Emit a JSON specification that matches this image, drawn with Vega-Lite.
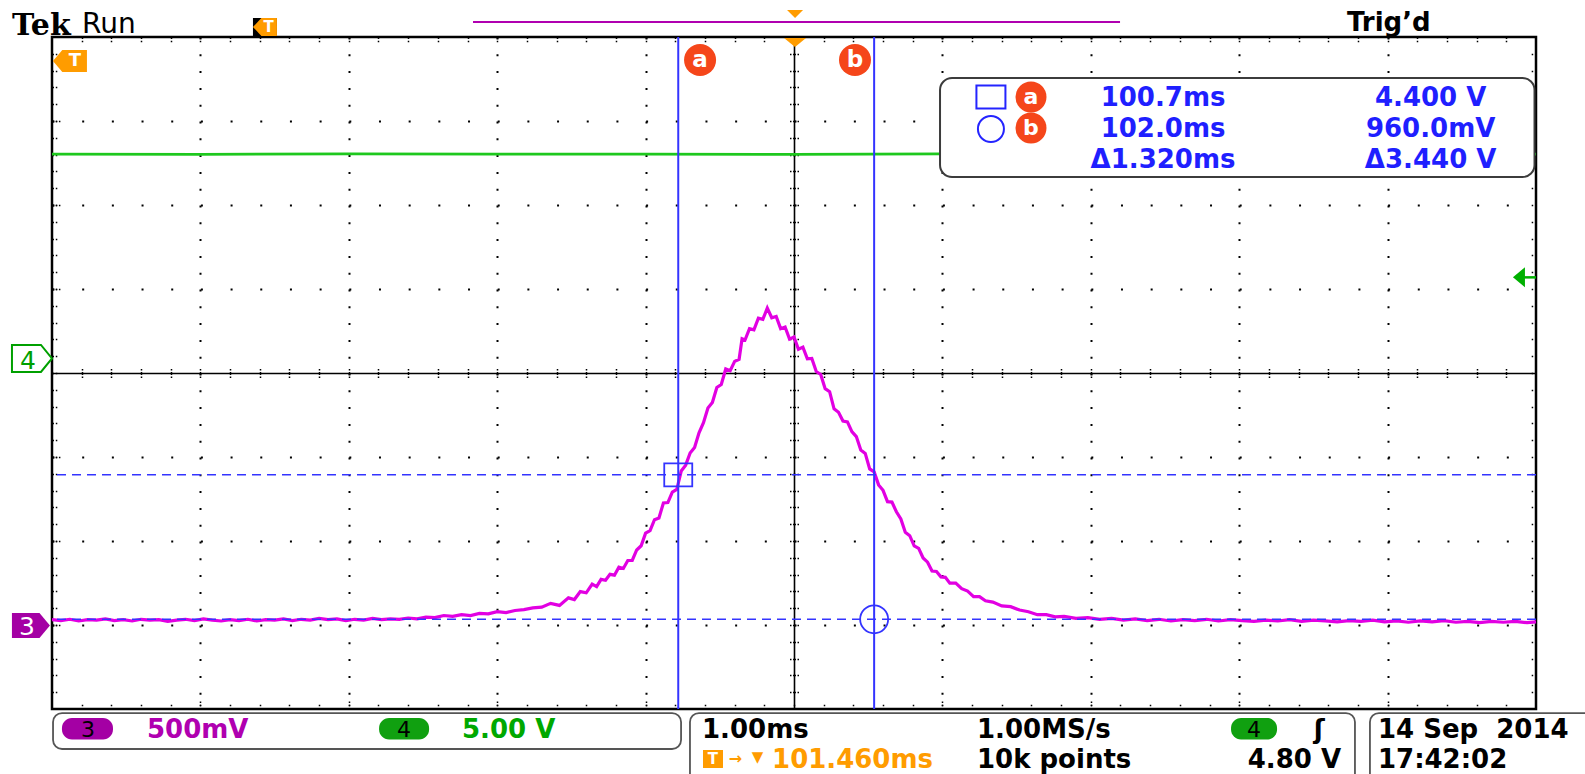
{
  "$schema": "https://vega.github.io/schema/vega-lite/v6.json",
  "width": 1484,
  "height": 672,
  "autosize": {"type": "none"},
  "padding": {"left": 52, "top": 37, "right": 49, "bottom": 65},
  "background": "#ffffff",
  "config": {
    "view": {"stroke": "#000000", "strokeWidth": 2.5},
    "axis": {"domain": false, "ticks": false, "labels": false, "grid": false, "titleOpacity": 0}
  },
  "datasets": {
    "ch3": [
      {"t": 96.46, "v": 0.95}, {"t": 96.52, "v": 0.93}, {"t": 96.58, "v": 0.96}, {"t": 96.64, "v": 0.92}, {"t": 96.7, "v": 0.95},
      {"t": 96.76, "v": 0.94}, {"t": 96.82, "v": 0.97}, {"t": 96.88, "v": 0.93}, {"t": 96.94, "v": 0.95}, {"t": 97.0, "v": 0.92},
      {"t": 97.06, "v": 0.96}, {"t": 97.12, "v": 0.94}, {"t": 97.18, "v": 0.95}, {"t": 97.24, "v": 0.91}, {"t": 97.3, "v": 0.94},
      {"t": 97.36, "v": 0.96}, {"t": 97.42, "v": 0.93}, {"t": 97.48, "v": 0.97}, {"t": 97.54, "v": 0.94}, {"t": 97.6, "v": 0.92},
      {"t": 97.66, "v": 0.95}, {"t": 97.72, "v": 0.93}, {"t": 97.78, "v": 0.96}, {"t": 97.84, "v": 0.92}, {"t": 97.9, "v": 0.95},
      {"t": 97.96, "v": 0.94}, {"t": 98.02, "v": 0.97}, {"t": 98.08, "v": 0.93}, {"t": 98.14, "v": 0.96}, {"t": 98.2, "v": 0.94},
      {"t": 98.26, "v": 0.98}, {"t": 98.32, "v": 0.95}, {"t": 98.38, "v": 0.97}, {"t": 98.44, "v": 0.93}, {"t": 98.5, "v": 0.96},
      {"t": 98.56, "v": 0.94}, {"t": 98.62, "v": 0.98}, {"t": 98.68, "v": 0.95}, {"t": 98.74, "v": 0.97}, {"t": 98.8, "v": 0.96},
      {"t": 98.86, "v": 0.99}, {"t": 98.92, "v": 0.97}, {"t": 98.98, "v": 1.01}, {"t": 99.04, "v": 1.0}, {"t": 99.1, "v": 1.05},
      {"t": 99.16, "v": 1.03}, {"t": 99.22, "v": 1.07}, {"t": 99.28, "v": 1.05}, {"t": 99.34, "v": 1.1}, {"t": 99.4, "v": 1.09},
      {"t": 99.46, "v": 1.14}, {"t": 99.52, "v": 1.12}, {"t": 99.58, "v": 1.17}, {"t": 99.64, "v": 1.19}, {"t": 99.7, "v": 1.23},
      {"t": 99.76, "v": 1.25}, {"t": 99.82, "v": 1.34}, {"t": 99.88, "v": 1.29}, {"t": 99.94, "v": 1.47}, {"t": 99.98, "v": 1.43},
      {"t": 100.02, "v": 1.62}, {"t": 100.06, "v": 1.59}, {"t": 100.1, "v": 1.8}, {"t": 100.13, "v": 1.74}, {"t": 100.16, "v": 1.91},
      {"t": 100.19, "v": 1.89}, {"t": 100.22, "v": 2.03}, {"t": 100.25, "v": 2.01}, {"t": 100.28, "v": 2.2}, {"t": 100.31, "v": 2.17},
      {"t": 100.34, "v": 2.36}, {"t": 100.37, "v": 2.36}, {"t": 100.4, "v": 2.61}, {"t": 100.43, "v": 2.71}, {"t": 100.46, "v": 3.01},
      {"t": 100.49, "v": 3.07}, {"t": 100.52, "v": 3.33}, {"t": 100.55, "v": 3.37}, {"t": 100.58, "v": 3.73}, {"t": 100.61, "v": 3.74},
      {"t": 100.64, "v": 3.99}, {"t": 100.67, "v": 4.05}, {"t": 100.7, "v": 4.49}, {"t": 100.73, "v": 4.63}, {"t": 100.76, "v": 4.92},
      {"t": 100.79, "v": 5.05}, {"t": 100.82, "v": 5.4}, {"t": 100.85, "v": 5.64}, {"t": 100.88, "v": 5.99}, {"t": 100.91, "v": 6.12},
      {"t": 100.94, "v": 6.48}, {"t": 100.97, "v": 6.55}, {"t": 101.0, "v": 6.92}, {"t": 101.03, "v": 6.88}, {"t": 101.06, "v": 7.1},
      {"t": 101.09, "v": 7.15}, {"t": 101.11, "v": 7.64}, {"t": 101.13, "v": 7.61}, {"t": 101.16, "v": 7.88}, {"t": 101.19, "v": 7.85},
      {"t": 101.22, "v": 8.13}, {"t": 101.25, "v": 8.1}, {"t": 101.28, "v": 8.37}, {"t": 101.31, "v": 8.14}, {"t": 101.34, "v": 8.17},
      {"t": 101.37, "v": 7.88}, {"t": 101.4, "v": 7.92}, {"t": 101.43, "v": 7.63}, {"t": 101.46, "v": 7.68}, {"t": 101.49, "v": 7.39},
      {"t": 101.52, "v": 7.44}, {"t": 101.55, "v": 7.16}, {"t": 101.58, "v": 7.17}, {"t": 101.61, "v": 6.86}, {"t": 101.64, "v": 6.79},
      {"t": 101.67, "v": 6.45}, {"t": 101.7, "v": 6.38}, {"t": 101.73, "v": 5.97}, {"t": 101.76, "v": 5.89}, {"t": 101.79, "v": 5.68},
      {"t": 101.82, "v": 5.66}, {"t": 101.85, "v": 5.43}, {"t": 101.88, "v": 5.31}, {"t": 101.91, "v": 4.99}, {"t": 101.94, "v": 4.91},
      {"t": 101.97, "v": 4.54}, {"t": 102.0, "v": 4.47}, {"t": 102.03, "v": 4.16}, {"t": 102.06, "v": 4.03}, {"t": 102.09, "v": 3.76},
      {"t": 102.12, "v": 3.75}, {"t": 102.15, "v": 3.52}, {"t": 102.18, "v": 3.35}, {"t": 102.21, "v": 3.03}, {"t": 102.24, "v": 2.95},
      {"t": 102.27, "v": 2.71}, {"t": 102.3, "v": 2.65}, {"t": 102.33, "v": 2.42}, {"t": 102.36, "v": 2.32}, {"t": 102.39, "v": 2.11},
      {"t": 102.42, "v": 2.1}, {"t": 102.45, "v": 1.97}, {"t": 102.48, "v": 1.96}, {"t": 102.51, "v": 1.82}, {"t": 102.55, "v": 1.82},
      {"t": 102.59, "v": 1.69}, {"t": 102.63, "v": 1.63}, {"t": 102.67, "v": 1.5}, {"t": 102.71, "v": 1.5}, {"t": 102.75, "v": 1.4},
      {"t": 102.8, "v": 1.37}, {"t": 102.86, "v": 1.28}, {"t": 102.92, "v": 1.26}, {"t": 102.98, "v": 1.18}, {"t": 103.04, "v": 1.14},
      {"t": 103.1, "v": 1.07}, {"t": 103.16, "v": 1.07}, {"t": 103.22, "v": 1.02}, {"t": 103.28, "v": 1.03}, {"t": 103.36, "v": 0.98},
      {"t": 103.44, "v": 1.0}, {"t": 103.52, "v": 0.96}, {"t": 103.6, "v": 0.98}, {"t": 103.68, "v": 0.94}, {"t": 103.76, "v": 0.97},
      {"t": 103.84, "v": 0.93}, {"t": 103.92, "v": 0.96}, {"t": 104.0, "v": 0.92}, {"t": 104.08, "v": 0.95}, {"t": 104.16, "v": 0.93},
      {"t": 104.24, "v": 0.96}, {"t": 104.32, "v": 0.92}, {"t": 104.4, "v": 0.95}, {"t": 104.48, "v": 0.93}, {"t": 104.56, "v": 0.91},
      {"t": 104.64, "v": 0.94}, {"t": 104.72, "v": 0.92}, {"t": 104.8, "v": 0.95}, {"t": 104.88, "v": 0.91}, {"t": 104.96, "v": 0.94},
      {"t": 105.04, "v": 0.92}, {"t": 105.12, "v": 0.9}, {"t": 105.2, "v": 0.93}, {"t": 105.28, "v": 0.91}, {"t": 105.36, "v": 0.94},
      {"t": 105.44, "v": 0.9}, {"t": 105.52, "v": 0.92}, {"t": 105.6, "v": 0.89}, {"t": 105.68, "v": 0.92}, {"t": 105.76, "v": 0.9},
      {"t": 105.84, "v": 0.93}, {"t": 105.92, "v": 0.89}, {"t": 106.0, "v": 0.91}, {"t": 106.08, "v": 0.88}, {"t": 106.16, "v": 0.91},
      {"t": 106.24, "v": 0.89}, {"t": 106.32, "v": 0.91}, {"t": 106.4, "v": 0.88}, {"t": 106.46, "v": 0.9}
    ],
    "ch4": [
      {"t": 96.46, "v": 12.14}, {"t": 97.46, "v": 12.12}, {"t": 98.46, "v": 12.15}, {"t": 99.46, "v": 12.13}, {"t": 100.46, "v": 12.14},
      {"t": 101.46, "v": 12.12}, {"t": 102.46, "v": 12.15}, {"t": 103.46, "v": 12.13}, {"t": 104.46, "v": 12.14}, {"t": 105.46, "v": 12.13},
      {"t": 106.46, "v": 12.14}
    ],
    "cursors": [
      {"cursor": "a", "t": 100.68, "v": 4.4},
      {"cursor": "b", "t": 102.0, "v": 0.96}
    ],
    "trigger": [{"source": "4", "level": 4.8}]
  },
  "resolve": {
    "scale": {"x": "independent", "y": "independent"},
    "axis": {"x": "independent", "y": "independent"}
  },
  "layer": [
    {
      "mark": {"type": "point", "opacity": 0},
      "encoding": {
        "x": {"datum": 0, "scale": {"domain": [-5, 5], "nice": false, "zero": false},
          "axis": {"orient": "bottom", "title": null, "values": [-4, -3, -2, -1, 1, 2, 3, 4], "grid": true, "gridColor": "#000000", "gridWidth": 2, "gridDash": [2, 14.8],
            "ticks": true, "tickSize": -9, "tickColor": "#000000", "tickWidth": 1.5, "tickDash": [1.5, 1.7]}},
        "y": {"datum": 0, "scale": {"domain": [-4, 4], "nice": false, "zero": false},
          "axis": {"orient": "left", "title": null, "values": [-3, -2, -1, 1, 2, 3], "grid": true, "gridColor": "#000000", "gridWidth": 2, "gridDash": [2, 27.68],
            "ticks": true, "tickSize": -9, "tickColor": "#000000", "tickWidth": 1.5, "tickDash": [1.5, 1.7]}}
      }
    },
    {
      "mark": {"type": "point", "opacity": 0},
      "encoding": {
        "x": {"datum": 0, "scale": {"domain": [-5, 5], "nice": false, "zero": false},
          "axis": {"orient": "bottom", "title": null, "ticks": true, "tickSize": -5, "tickColor": "#000000", "tickWidth": 1.5, "tickDash": [1.5, 1.8],
            "values": [-4.8, -4.6, -4.4, -4.2, -4, -3.8, -3.6, -3.4, -3.2, -3, -2.8, -2.6, -2.4, -2.2, -2, -1.8, -1.6, -1.4, -1.2, -1, -0.8, -0.6, -0.4, -0.2, 0, 0.2, 0.4, 0.6, 0.8, 1, 1.2, 1.4, 1.6, 1.8, 2, 2.2, 2.4, 2.6, 2.8, 3, 3.2, 3.4, 3.6, 3.8, 4, 4.2, 4.4, 4.6, 4.8]}},
        "y": {"datum": 0, "scale": {"domain": [-4, 4], "nice": false, "zero": false},
          "axis": {"orient": "left", "title": null, "ticks": true, "tickSize": -5, "tickColor": "#000000", "tickWidth": 1.5, "tickDash": [1.5, 1.8],
            "values": [-3.8, -3.6, -3.4, -3.2, -3, -2.8, -2.6, -2.4, -2.2, -2, -1.8, -1.6, -1.4, -1.2, -1, -0.8, -0.6, -0.4, -0.2, 0, 0.2, 0.4, 0.6, 0.8, 1, 1.2, 1.4, 1.6, 1.8, 2, 2.2, 2.4, 2.6, 2.8, 3, 3.2, 3.4, 3.6, 3.8]}}
      }
    },
    {
      "mark": {"type": "point", "opacity": 0},
      "encoding": {
        "x": {"datum": 0, "scale": {"domain": [-5, 5], "nice": false, "zero": false},
          "axis": {"orient": "top", "title": null, "ticks": true, "tickSize": -5, "tickColor": "#000000", "tickWidth": 1.5, "tickDash": [1.5, 1.8],
            "values": [-4.8, -4.6, -4.4, -4.2, -4, -3.8, -3.6, -3.4, -3.2, -3, -2.8, -2.6, -2.4, -2.2, -2, -1.8, -1.6, -1.4, -1.2, -1, -0.8, -0.6, -0.4, -0.2, 0, 0.2, 0.4, 0.6, 0.8, 1, 1.2, 1.4, 1.6, 1.8, 2, 2.2, 2.4, 2.6, 2.8, 3, 3.2, 3.4, 3.6, 3.8, 4, 4.2, 4.4, 4.6, 4.8]}},
        "y": {"datum": 0, "scale": {"domain": [-4, 4], "nice": false, "zero": false},
          "axis": {"orient": "right", "title": null, "ticks": true, "tickSize": -5, "tickColor": "#000000", "tickWidth": 1.5, "tickDash": [1.5, 1.8],
            "values": [-3.8, -3.6, -3.4, -3.2, -3, -2.8, -2.6, -2.4, -2.2, -2, -1.8, -1.6, -1.4, -1.2, -1, -0.8, -0.6, -0.4, -0.2, 0, 0.2, 0.4, 0.6, 0.8, 1, 1.2, 1.4, 1.6, 1.8, 2, 2.2, 2.4, 2.6, 2.8, 3, 3.2, 3.4, 3.6, 3.8]}}
      }
    },
    {
      "mark": {"type": "point", "opacity": 0},
      "encoding": {
        "x": {"datum": 0, "scale": {"domain": [-5, 5], "nice": false, "zero": false},
          "axis": {"orient": "bottom", "offset": -336, "title": null, "domain": true, "domainColor": "#000000", "domainWidth": 1.6,
            "ticks": true, "tickSize": 6, "tickColor": "#000000", "tickWidth": 1.5, "tickDash": [1.5, 1.5],
            "values": [-4.8, -4.6, -4.4, -4.2, -4, -3.8, -3.6, -3.4, -3.2, -3, -2.8, -2.6, -2.4, -2.2, -2, -1.8, -1.6, -1.4, -1.2, -1, -0.8, -0.6, -0.4, -0.2, 0.2, 0.4, 0.6, 0.8, 1, 1.2, 1.4, 1.6, 1.8, 2, 2.2, 2.4, 2.6, 2.8, 3, 3.2, 3.4, 3.6, 3.8, 4, 4.2, 4.4, 4.6, 4.8]}},
        "y": {"datum": 0, "scale": {"domain": [-4, 4], "nice": false, "zero": false},
          "axis": {"orient": "left", "offset": -742, "title": null, "domain": true, "domainColor": "#000000", "domainWidth": 1.6,
            "ticks": true, "tickSize": 6, "tickColor": "#000000", "tickWidth": 1.5, "tickDash": [1.5, 1.5],
            "values": [-3.8, -3.6, -3.4, -3.2, -3, -2.8, -2.6, -2.4, -2.2, -2, -1.8, -1.6, -1.4, -1.2, -1, -0.8, -0.6, -0.4, -0.2, 0.2, 0.4, 0.6, 0.8, 1, 1.2, 1.4, 1.6, 1.8, 2, 2.2, 2.4, 2.6, 2.8, 3, 3.2, 3.4, 3.6, 3.8]}}
      }
    },
    {
      "mark": {"type": "point", "opacity": 0},
      "encoding": {
        "x": {"datum": 0, "scale": {"domain": [-5, 5], "nice": false, "zero": false},
          "axis": {"orient": "top", "offset": -336, "title": null,
            "ticks": true, "tickSize": 6, "tickColor": "#000000", "tickWidth": 1.5, "tickDash": [1.5, 1.5],
            "values": [-4.8, -4.6, -4.4, -4.2, -4, -3.8, -3.6, -3.4, -3.2, -3, -2.8, -2.6, -2.4, -2.2, -2, -1.8, -1.6, -1.4, -1.2, -1, -0.8, -0.6, -0.4, -0.2, 0.2, 0.4, 0.6, 0.8, 1, 1.2, 1.4, 1.6, 1.8, 2, 2.2, 2.4, 2.6, 2.8, 3, 3.2, 3.4, 3.6, 3.8, 4, 4.2, 4.4, 4.6, 4.8]}},
        "y": {"datum": 0, "scale": {"domain": [-4, 4], "nice": false, "zero": false},
          "axis": {"orient": "right", "offset": -742, "title": null,
            "ticks": true, "tickSize": 6, "tickColor": "#000000", "tickWidth": 1.5, "tickDash": [1.5, 1.5],
            "values": [-3.8, -3.6, -3.4, -3.2, -3, -2.8, -2.6, -2.4, -2.2, -2, -1.8, -1.6, -1.4, -1.2, -1, -0.8, -0.6, -0.4, -0.2, 0.2, 0.4, 0.6, 0.8, 1, 1.2, 1.4, 1.6, 1.8, 2, 2.2, 2.4, 2.6, 2.8, 3, 3.2, 3.4, 3.6, 3.8]}}
      }
    },
    {
      "layer": [
        {
          "data": {"name": "ch4"},
          "mark": {"type": "line", "color": "#1ec81e", "strokeWidth": 2.8},
          "encoding": {
            "x": {"field": "t", "type": "quantitative", "scale": {"domain": [96.46, 106.46], "nice": false, "zero": false}},
            "y": {"field": "v", "type": "quantitative", "scale": {"domain": [-20.893, 19.107], "nice": false, "zero": false}}
          }
        },
        {
          "data": {"name": "trigger"},
          "mark": {"type": "point", "shape": "M-0.6,0L0.6,-1L0.6,1Z", "size": 400, "filled": true, "color": "#00b000", "opacity": 1},
          "encoding": {"x": {"datum": 106.345}, "y": {"field": "level", "type": "quantitative"}}
        },
        {
          "data": {"name": "trigger"},
          "mark": {"type": "rule", "color": "#00b000", "strokeWidth": 2.5},
          "encoding": {"x": {"datum": 106.38}, "x2": {"datum": 106.46}, "y": {"field": "level", "type": "quantitative"}}
        }
      ]
    },
    {
      "layer": [
        {
          "data": {"name": "ch3"},
          "mark": {"type": "line", "color": "#e200e2", "strokeWidth": 3.2},
          "encoding": {
            "x": {"field": "t", "type": "quantitative", "scale": {"domain": [96.46, 106.46], "nice": false, "zero": false}},
            "y": {"field": "v", "type": "quantitative", "scale": {"domain": [-1.176, 14.824], "nice": false, "zero": false}}
          }
        },
        {
          "data": {"name": "cursors"},
          "mark": {"type": "rule", "color": "#3434ff", "strokeWidth": 2},
          "encoding": {"x": {"field": "t", "type": "quantitative"}}
        },
        {
          "data": {"name": "cursors"},
          "mark": {"type": "rule", "color": "#3434ff", "strokeWidth": 1.6, "strokeDash": [9, 6]},
          "encoding": {"y": {"field": "v", "type": "quantitative"}}
        },
        {
          "data": {"name": "cursors"},
          "mark": {"type": "point", "filled": false, "color": "#3434ff", "strokeWidth": 1.8, "size": 784, "opacity": 1},
          "encoding": {
            "x": {"field": "t", "type": "quantitative"},
            "y": {"field": "v", "type": "quantitative"},
            "shape": {"field": "cursor", "type": "nominal", "scale": {"domain": ["a", "b"], "range": ["M-1,-0.82H1V0.82H-1Z", "circle"]}, "legend": null}
          }
        }
      ]
    },
    {
      "data": {"values": [{}]},
      "layer": [
        {
          "mark": {"type": "rect", "fill": "#ffffff", "stroke": "#3c3c3c", "strokeWidth": 2, "cornerRadius": 12},
          "encoding": {
            "x": {"datum": 0.984, "scale": {"domain": [-5, 5], "nice": false, "zero": false}}, "x2": {"datum": 4.99},
            "y": {"datum": 3.512, "scale": {"domain": [-4, 4], "nice": false, "zero": false}}, "y2": {"datum": 2.333}
          }
        },
        {"mark": {"type": "point", "shape": "M-1,-0.8H1V0.8H-1Z", "size": 841, "filled": false, "color": "#2424ff", "strokeWidth": 2, "opacity": 1},
          "encoding": {"x": {"datum": 1.327}, "y": {"datum": 3.286}}},
        {"mark": {"type": "point", "shape": "circle", "size": 676, "filled": false, "color": "#2424ff", "strokeWidth": 2, "opacity": 1},
          "encoding": {"x": {"datum": 1.327}, "y": {"datum": 2.905}}},
        {"mark": {"type": "point", "shape": "circle", "size": 961, "filled": true, "color": "#f5461a", "opacity": 1},
          "encoding": {"x": {"datum": 1.597}, "y": {"datum": 3.286}}},
        {"mark": {"type": "text", "text": "a", "font": "DejaVu Sans", "fontWeight": "bold", "fontSize": 22, "color": "#ffffff", "align": "center", "baseline": "middle"},
          "encoding": {"x": {"datum": 1.597}, "y": {"datum": 3.286}}},
        {"mark": {"type": "point", "shape": "circle", "size": 961, "filled": true, "color": "#f5461a", "opacity": 1},
          "encoding": {"x": {"datum": 1.597}, "y": {"datum": 2.917}}},
        {"mark": {"type": "text", "text": "b", "font": "DejaVu Sans", "fontWeight": "bold", "fontSize": 22, "color": "#ffffff", "align": "center", "baseline": "middle"},
          "encoding": {"x": {"datum": 1.597}, "y": {"datum": 2.917}}},
        {"mark": {"type": "text", "text": "100.7ms", "font": "DejaVu Sans", "fontWeight": "bold", "fontSize": 26, "color": "#1f1fff", "align": "center", "baseline": "alphabetic"},
          "encoding": {"x": {"datum": 2.487}, "y": {"datum": 3.179}}},
        {"mark": {"type": "text", "text": "102.0ms", "font": "DejaVu Sans", "fontWeight": "bold", "fontSize": 26, "color": "#1f1fff", "align": "center", "baseline": "alphabetic"},
          "encoding": {"x": {"datum": 2.487}, "y": {"datum": 2.81}}},
        {"mark": {"type": "text", "text": "Δ1.320ms", "font": "DejaVu Sans", "fontWeight": "bold", "fontSize": 26, "color": "#1f1fff", "align": "center", "baseline": "alphabetic"},
          "encoding": {"x": {"datum": 2.487}, "y": {"datum": 2.44}}},
        {"mark": {"type": "text", "text": "4.400 V", "font": "DejaVu Sans", "fontWeight": "bold", "fontSize": 26, "color": "#1f1fff", "align": "center", "baseline": "alphabetic"},
          "encoding": {"x": {"datum": 4.29}, "y": {"datum": 3.179}}},
        {"mark": {"type": "text", "text": "960.0mV", "font": "DejaVu Sans", "fontWeight": "bold", "fontSize": 26, "color": "#1f1fff", "align": "center", "baseline": "alphabetic"},
          "encoding": {"x": {"datum": 4.29}, "y": {"datum": 2.81}}},
        {"mark": {"type": "text", "text": "Δ3.440 V", "font": "DejaVu Sans", "fontWeight": "bold", "fontSize": 26, "color": "#1f1fff", "align": "center", "baseline": "alphabetic"},
          "encoding": {"x": {"datum": 4.29}, "y": {"datum": 2.44}}},
        {"mark": {"type": "point", "shape": "circle", "size": 1024, "filled": true, "color": "#f5461a", "opacity": 1},
          "encoding": {"x": {"datum": -0.633}, "y": {"datum": 3.726}}},
        {"mark": {"type": "text", "text": "a", "font": "DejaVu Sans", "fontWeight": "bold", "fontSize": 23, "color": "#ffffff", "align": "center", "baseline": "middle"},
          "encoding": {"x": {"datum": -0.633}, "y": {"datum": 3.726}}},
        {"mark": {"type": "point", "shape": "circle", "size": 1024, "filled": true, "color": "#f5461a", "opacity": 1},
          "encoding": {"x": {"datum": 0.411}, "y": {"datum": 3.726}}},
        {"mark": {"type": "text", "text": "b", "font": "DejaVu Sans", "fontWeight": "bold", "fontSize": 23, "color": "#ffffff", "align": "center", "baseline": "middle"},
          "encoding": {"x": {"datum": 0.411}, "y": {"datum": 3.726}}},
        {"mark": {"type": "point", "shape": "M-1,-0.41L1,-0.41L0,0.41Z", "size": 484, "filled": true, "color": "#ff9c00", "opacity": 1},
          "encoding": {"x": {"datum": 0.007}, "y": {"datum": 3.935}}},
        {"mark": {"type": "point", "shape": "M1,-0.65H-0.45L-1,0L-0.45,0.65H1Z", "size": 1156, "filled": true, "color": "#ff9c00", "opacity": 1},
          "encoding": {"x": {"datum": -4.879}, "y": {"datum": 3.714}}},
        {"mark": {"type": "text", "text": "T", "font": "DejaVu Sans", "fontWeight": "bold", "fontSize": 18, "color": "#ffffff", "align": "center", "baseline": "middle"},
          "encoding": {"x": {"datum": -4.845}, "y": {"datum": 3.714}}},
        {"mark": {"type": "text", "text": "Tek", "font": "DejaVu Serif", "fontWeight": "bold", "fontSize": 30, "color": "#000000", "align": "left", "baseline": "alphabetic"},
          "encoding": {"x": {"datum": -5.27}, "y": {"datum": 4.024}}},
        {"mark": {"type": "text", "text": "Run", "font": "DejaVu Sans", "fontSize": 28, "color": "#000000", "align": "left", "baseline": "alphabetic"},
          "encoding": {"x": {"datum": -4.798}, "y": {"datum": 4.052}}},
        {"mark": {"type": "point", "shape": "M-1,-0.75H1V0.75H-1Z", "size": 576, "filled": true, "color": "#000000", "opacity": 1},
          "encoding": {"x": {"datum": -3.565}, "y": {"datum": 4.119}}},
        {"mark": {"type": "point", "shape": "M1,-0.75H-0.3L-1,0L-0.3,0.75H1Z", "size": 576, "filled": true, "color": "#ff9c00", "opacity": 1},
          "encoding": {"x": {"datum": -3.565}, "y": {"datum": 4.119}}},
        {"mark": {"type": "text", "text": "T", "font": "DejaVu Sans", "fontWeight": "bold", "fontSize": 15, "color": "#ffffff", "align": "center", "baseline": "middle"},
          "encoding": {"x": {"datum": -3.54}, "y": {"datum": 4.119}}},
        {"mark": {"type": "rule", "color": "#b000b0", "strokeWidth": 2},
          "encoding": {"x": {"datum": -2.163}, "x2": {"datum": 2.197}, "y": {"datum": 4.179}}},
        {"mark": {"type": "point", "shape": "M-1,-0.5L1,-0.5L0,0.5Z", "size": 256, "filled": true, "color": "#ff9c00", "opacity": 1},
          "encoding": {"x": {"datum": 0.007}, "y": {"datum": 4.274}}},
        {"mark": {"type": "text", "text": "Trig’d", "font": "DejaVu Sans", "fontWeight": "bold", "fontSize": 26, "color": "#000000", "align": "left", "baseline": "alphabetic"},
          "encoding": {"x": {"datum": 3.726}, "y": {"datum": 4.071}}},
        {"mark": {"type": "point", "shape": "M-1,-0.675H0.45L1,0L0.45,0.675H-1Z", "size": 1600, "filled": true, "fill": "#ffffff", "stroke": "#00a000", "strokeWidth": 2, "opacity": 1},
          "encoding": {"x": {"datum": -5.135}, "y": {"datum": 0.173}}},
        {"mark": {"type": "text", "text": "4", "font": "DejaVu Sans", "fontSize": 25, "color": "#00a000", "align": "center", "baseline": "alphabetic"},
          "encoding": {"x": {"datum": -5.162}, "y": {"datum": 0.048}}},
        {"mark": {"type": "point", "shape": "M-1,-0.66H0.45L1,0L0.45,0.66H-1Z", "size": 1444, "filled": true, "color": "#a400a4", "opacity": 1},
          "encoding": {"x": {"datum": -5.142}, "y": {"datum": -3.006}}},
        {"mark": {"type": "text", "text": "3", "font": "DejaVu Sans", "fontSize": 25, "color": "#ffffff", "align": "center", "baseline": "alphabetic"},
          "encoding": {"x": {"datum": -5.169}, "y": {"datum": -3.119}}},
        {"mark": {"type": "rect", "fill": null, "stroke": "#555555", "strokeWidth": 1.8, "cornerRadius": 9},
          "encoding": {"x": {"datum": -4.993}, "x2": {"datum": -0.761}, "y": {"datum": -4.048}, "y2": {"datum": -4.476}}},
        {"mark": {"type": "rect", "fill": "#a400a4", "cornerRadius": 10},
          "encoding": {"x": {"datum": -4.933}, "x2": {"datum": -4.589}, "y": {"datum": -4.107}, "y2": {"datum": -4.363}}},
        {"mark": {"type": "text", "text": "3", "font": "DejaVu Sans", "fontSize": 22, "color": "#000000", "align": "center", "baseline": "alphabetic"},
          "encoding": {"x": {"datum": -4.757}, "y": {"datum": -4.333}}},
        {"mark": {"type": "text", "text": "500mV", "font": "DejaVu Sans", "fontWeight": "bold", "fontSize": 26, "color": "#b000b0", "align": "left", "baseline": "alphabetic"},
          "encoding": {"x": {"datum": -4.36}, "y": {"datum": -4.345}}},
        {"mark": {"type": "rect", "fill": "#10a010", "cornerRadius": 10},
          "encoding": {"x": {"datum": -2.796}, "x2": {"datum": -2.459}, "y": {"datum": -4.107}, "y2": {"datum": -4.363}}},
        {"mark": {"type": "text", "text": "4", "font": "DejaVu Sans", "fontSize": 22, "color": "#000000", "align": "center", "baseline": "alphabetic"},
          "encoding": {"x": {"datum": -2.628}, "y": {"datum": -4.333}}},
        {"mark": {"type": "text", "text": "5.00 V", "font": "DejaVu Sans", "fontWeight": "bold", "fontSize": 26, "color": "#00a800", "align": "left", "baseline": "alphabetic"},
          "encoding": {"x": {"datum": -2.237}, "y": {"datum": -4.345}}},
        {"mark": {"type": "rect", "fill": null, "stroke": "#555555", "strokeWidth": 1.8, "cornerRadius": 9},
          "encoding": {"x": {"datum": -0.701}, "x2": {"datum": 3.78}, "y": {"datum": -4.048}, "y2": {"datum": -5.0}}},
        {"mark": {"type": "text", "text": "1.00ms", "font": "DejaVu Sans", "fontWeight": "bold", "fontSize": 26, "color": "#000000", "align": "left", "baseline": "alphabetic"},
          "encoding": {"x": {"datum": -0.62}, "y": {"datum": -4.345}}},
        {"mark": {"type": "text", "text": "1.00MS/s", "font": "DejaVu Sans", "fontWeight": "bold", "fontSize": 26, "color": "#000000", "align": "left", "baseline": "alphabetic"},
          "encoding": {"x": {"datum": 1.233}, "y": {"datum": -4.345}}},
        {"mark": {"type": "rect", "fill": "#10a010", "cornerRadius": 10},
          "encoding": {"x": {"datum": 2.945}, "x2": {"datum": 3.255}, "y": {"datum": -4.107}, "y2": {"datum": -4.363}}},
        {"mark": {"type": "text", "text": "4", "font": "DejaVu Sans", "fontSize": 22, "color": "#000000", "align": "center", "baseline": "alphabetic"},
          "encoding": {"x": {"datum": 3.1}, "y": {"datum": -4.333}}},
        {"mark": {"type": "text", "text": "ʃ", "font": "DejaVu Sans", "fontWeight": "bold", "fontSize": 26, "color": "#000000", "align": "center", "baseline": "alphabetic"},
          "encoding": {"x": {"datum": 3.538}, "y": {"datum": -4.345}}},
        {"mark": {"type": "point", "shape": "M-1,-0.9H1V0.9H-1Z", "size": 400, "filled": true, "color": "#ff9c00", "opacity": 1},
          "encoding": {"x": {"datum": -0.546}, "y": {"datum": -4.595}}},
        {"mark": {"type": "text", "text": "T", "font": "DejaVu Sans", "fontWeight": "bold", "fontSize": 15, "color": "#ffffff", "align": "center", "baseline": "middle"},
          "encoding": {"x": {"datum": -0.546}, "y": {"datum": -4.595}}},
        {"mark": {"type": "text", "text": "→", "font": "DejaVu Sans", "fontWeight": "bold", "fontSize": 16, "color": "#ff9c00", "align": "center", "baseline": "middle"},
          "encoding": {"x": {"datum": -0.394}, "y": {"datum": -4.595}}},
        {"mark": {"type": "text", "text": "▼", "font": "DejaVu Sans", "fontSize": 15, "color": "#ff9c00", "align": "center", "baseline": "middle"},
          "encoding": {"x": {"datum": -0.246}, "y": {"datum": -4.571}}},
        {"mark": {"type": "text", "text": "101.460ms", "font": "DejaVu Sans", "fontWeight": "bold", "fontSize": 26, "color": "#ff9c00", "align": "left", "baseline": "alphabetic"},
          "encoding": {"x": {"datum": -0.148}, "y": {"datum": -4.702}}},
        {"mark": {"type": "text", "text": "10k points", "font": "DejaVu Sans", "fontWeight": "bold", "fontSize": 26, "color": "#000000", "align": "left", "baseline": "alphabetic"},
          "encoding": {"x": {"datum": 1.233}, "y": {"datum": -4.702}}},
        {"mark": {"type": "text", "text": "4.80 V", "font": "DejaVu Sans", "fontWeight": "bold", "fontSize": 26, "color": "#000000", "align": "right", "baseline": "alphabetic"},
          "encoding": {"x": {"datum": 3.686}, "y": {"datum": -4.702}}},
        {"mark": {"type": "rect", "fill": null, "stroke": "#555555", "strokeWidth": 1.8, "cornerRadius": 9},
          "encoding": {"x": {"datum": 3.881}, "x2": {"datum": 5.45}, "y": {"datum": -4.048}, "y2": {"datum": -5.0}}},
        {"mark": {"type": "text", "text": "14 Sep\u00a0 2014", "font": "DejaVu Sans", "fontWeight": "bold", "fontSize": 26, "color": "#000000", "align": "left", "baseline": "alphabetic"},
          "encoding": {"x": {"datum": 3.935}, "y": {"datum": -4.345}}},
        {"mark": {"type": "text", "text": "17:42:02", "font": "DejaVu Sans", "fontWeight": "bold", "fontSize": 26, "color": "#000000", "align": "left", "baseline": "alphabetic"},
          "encoding": {"x": {"datum": 3.935}, "y": {"datum": -4.702}}}
      ]
    }
  ]
}
